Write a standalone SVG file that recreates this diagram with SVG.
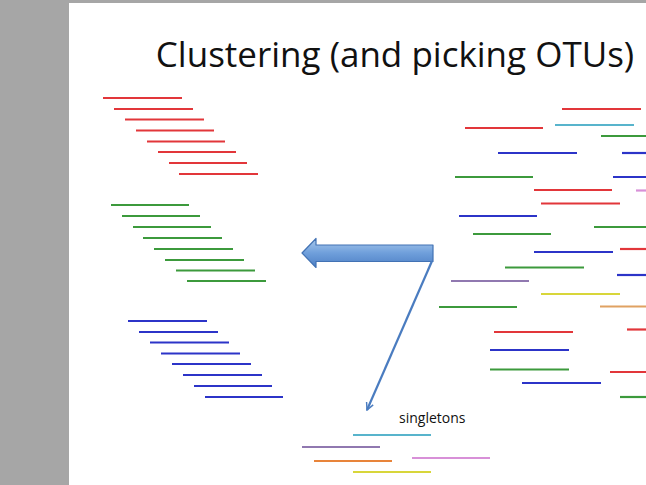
<svg xmlns="http://www.w3.org/2000/svg" width="646" height="485" viewBox="0 0 646 485">
<defs>
<style>
line{stroke-width:2.2;stroke-linecap:butt}
.r{stroke:#e2363a}.g{stroke:#3c9a3c}.b{stroke:#2c34c8}.c{stroke:#58b4cc}.p{stroke:#9078b0}
.o{stroke:#e8843a}.t{stroke:#e0a262}.y{stroke:#d8d63a}.k{stroke:#d890d8}
.title{font-family:"Open Sans","Liberation Sans",sans-serif;font-size:35px;fill:#111}
.lbl{font-family:"Open Sans","Liberation Sans",sans-serif;font-size:14px;fill:#111}
</style>
<linearGradient id="ag" x1="0" y1="0" x2="0" y2="1">
<stop offset="0" stop-color="#a9c9ec"/>
<stop offset="0.5" stop-color="#6f9fdb"/>
<stop offset="1" stop-color="#4d7fc4"/>
</linearGradient>
<marker id="open" viewBox="0 0 10 10" refX="9" refY="5" markerWidth="9" markerHeight="9" orient="auto" markerUnits="userSpaceOnUse">
<path d="M1,1 L9,5 L1,9" fill="none" stroke="#4a7cc0" stroke-width="1.6"/>
</marker>
</defs>
<rect width="646" height="485" fill="#a6a6a6"/>
<rect x="69" y="3" width="577" height="482" fill="#ffffff"/>
<g id="title"><text class="title" x="395" y="67" text-anchor="middle">Clustering (and picking OTUs)</text></g>
<g id="cluster-red">
<line class="r" x1="103" y1="98" x2="182" y2="98"/>
<line class="r" x1="114" y1="109" x2="193" y2="109"/>
<line class="r" x1="125" y1="119.5" x2="204" y2="119.5"/>
<line class="r" x1="136" y1="130.5" x2="214" y2="130.5"/>
<line class="r" x1="147" y1="141.5" x2="225" y2="141.5"/>
<line class="r" x1="158" y1="152" x2="236" y2="152"/>
<line class="r" x1="169" y1="163" x2="247" y2="163"/>
<line class="r" x1="179" y1="174" x2="258" y2="174"/>
</g>
<g id="cluster-green">
<line class="g" x1="111" y1="205" x2="189" y2="205"/>
<line class="g" x1="122" y1="216" x2="200" y2="216"/>
<line class="g" x1="133" y1="227" x2="211" y2="227"/>
<line class="g" x1="143" y1="238" x2="222" y2="238"/>
<line class="g" x1="154" y1="249" x2="233" y2="249"/>
<line class="g" x1="165" y1="260" x2="244" y2="260"/>
<line class="g" x1="176" y1="270.5" x2="255" y2="270.5"/>
<line class="g" x1="187" y1="281" x2="266" y2="281"/>
</g>
<g id="cluster-blue">
<line class="b" x1="128" y1="321" x2="207" y2="321"/>
<line class="b" x1="139" y1="332" x2="218" y2="332"/>
<line class="b" x1="150" y1="342.5" x2="229" y2="342.5"/>
<line class="b" x1="161" y1="353.5" x2="240" y2="353.5"/>
<line class="b" x1="172" y1="364" x2="251" y2="364"/>
<line class="b" x1="183" y1="375" x2="262" y2="375"/>
<line class="b" x1="194" y1="386" x2="272" y2="386"/>
<line class="b" x1="205" y1="397" x2="283" y2="397"/>
</g>
<g id="reads">
<line class="r" x1="562" y1="109" x2="641" y2="109"/>
<line class="c" x1="555" y1="125" x2="634" y2="125"/>
<line class="r" x1="465" y1="128" x2="543" y2="128"/>
<line class="g" x1="601" y1="136" x2="646" y2="136"/>
<line class="b" x1="498" y1="153" x2="577" y2="153"/>
<line class="b" x1="622" y1="153" x2="646" y2="153"/>
<line class="g" x1="455" y1="177" x2="533" y2="177"/>
<line class="b" x1="613" y1="177" x2="646" y2="177"/>
<line class="r" x1="534" y1="190" x2="612" y2="190"/>
<line class="k" x1="636" y1="190.5" x2="646" y2="190.5"/>
<line class="r" x1="541" y1="203.5" x2="620" y2="203.5"/>
<line class="b" x1="459" y1="216" x2="537" y2="216"/>
<line class="g" x1="594" y1="227" x2="646" y2="227"/>
<line class="g" x1="473" y1="234" x2="551" y2="234"/>
<line class="r" x1="620" y1="249" x2="646" y2="249"/>
<line class="b" x1="534" y1="252" x2="613" y2="252"/>
<line class="g" x1="505" y1="267.5" x2="584" y2="267.5"/>
<line class="b" x1="617" y1="275" x2="646" y2="275"/>
<line class="p" x1="451" y1="281" x2="529" y2="281"/>
<line class="y" x1="541" y1="294" x2="620" y2="294"/>
<line class="t" x1="600" y1="306.5" x2="646" y2="306.5"/>
<line class="g" x1="439" y1="307" x2="517" y2="307"/>
<line class="r" x1="627" y1="329.5" x2="646" y2="329.5"/>
<line class="r" x1="494" y1="332" x2="573" y2="332"/>
<line class="b" x1="490" y1="350" x2="569" y2="350"/>
<line class="g" x1="490" y1="369.5" x2="569" y2="369.5"/>
<line class="r" x1="610" y1="372" x2="646" y2="372"/>
<line class="b" x1="522" y1="383" x2="601" y2="383"/>
<line class="g" x1="620" y1="397" x2="646" y2="397"/>
</g>
<g id="singletons">
<text class="lbl" x="399" y="423">singletons</text>
<line class="c" x1="353" y1="435" x2="431" y2="435"/>
<line class="p" x1="302" y1="447" x2="380" y2="447"/>
<line class="k" x1="412" y1="458" x2="490" y2="458"/>
<line class="o" x1="314" y1="461" x2="392" y2="461"/>
<line class="y" x1="353" y1="472" x2="431" y2="472"/>
</g>
<g id="connectors">
<path d="M302,253 L316,238.5 L316,245 L433,245 L433,261.5 L316,261.5 L316,267.5 Z" fill="url(#ag)" stroke="#4272b4" stroke-width="1.2" stroke-linejoin="round"/>
<line x1="432" y1="261" x2="367" y2="410" stroke="#4a7cc0" stroke-width="1.4" marker-end="url(#open)"/>
</g>
</svg>
